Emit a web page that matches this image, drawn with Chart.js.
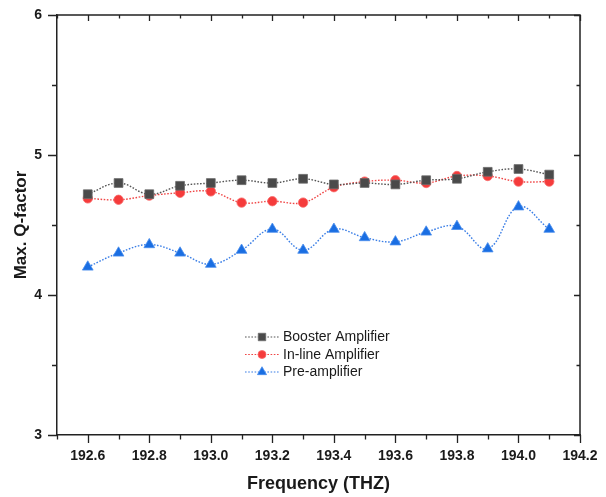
<!DOCTYPE html>
<html>
<head>
<meta charset="utf-8">
<script src="https://cdn.jsdelivr.net/npm/chart.js@4.4.1/dist/chart.umd.min.js"></script>
<style>
  html, body { margin: 0; padding: 0; background: #fff; }
  #wrap { width: 606px; height: 497px; }
</style>
</head>
<body>
<div id="wrap"><canvas id="c" width="606" height="497"></canvas></div>
<script>
// ---- data ----
const frequencies = [192.6, 192.7, 192.8, 192.9, 193.0, 193.1, 193.2, 193.3, 193.4, 193.5, 193.6, 193.7, 193.8, 193.9, 194.0, 194.1];
const boosterAmp  = [4.72, 4.80, 4.72, 4.78, 4.80, 4.82, 4.80, 4.83, 4.79, 4.80, 4.79, 4.82, 4.83, 4.88, 4.90, 4.86];
const inlineAmp   = [4.69, 4.68, 4.71, 4.73, 4.74, 4.66, 4.67, 4.66, 4.77, 4.81, 4.82, 4.80, 4.85, 4.85, 4.81, 4.81];
const preAmp      = [4.20, 4.30, 4.36, 4.30, 4.22, 4.32, 4.47, 4.32, 4.47, 4.41, 4.38, 4.45, 4.49, 4.33, 4.63, 4.47];
const seriesNames = ['Booster Amplifier', 'In-line Amplifier', 'Pre-amplifier'];
const xTickLabels = ['192.6', '192.8', '193.0', '193.2', '193.4', '193.6', '193.8', '194.0', '194.2'];
const yTickLabels = ['3', '4', '5', '6'];
const xMin = 192.5, xMax = 194.2, yMin = 3, yMax = 6;

const toPts = arr => arr.map((v, i) => ({ x: frequencies[i], y: v }));

const styles = [
  { line: '#555555', fill: '#4a4a4a', border: '#6a6a6a', shape: 'rect', r: 6.2 },
  { line: '#f04545', fill: '#f53b3b', border: '#f76a6a', shape: 'circle', r: 4.7 },
  { line: '#3a7ee6', fill: '#1a6ee2', border: '#4a8eee', shape: 'triangle', r: 6.2 }
];
const seriesData = [boosterAmp, inlineAmp, preAmp];

const datasets = seriesData.map((arr, i) => ({
  label: seriesNames[i],
  data: toPts(arr),
  borderColor: styles[i].line,
  borderWidth: 1.4,
  borderDash: [1.6, 1.6],
  tension: 0.4,
  pointStyle: styles[i].shape,
  pointRadius: styles[i].r,
  pointBackgroundColor: styles[i].fill,
  pointBorderColor: styles[i].border,
  pointBorderWidth: 0.8,
  fill: false
}));

function drawMarker(ctx, shape, x, y, r, fill, border) {
  ctx.save();
  ctx.setLineDash([]);
  ctx.fillStyle = fill;
  ctx.strokeStyle = border;
  ctx.lineWidth = 0.8;
  ctx.beginPath();
  if (shape === 'rect') {
    const s = r * Math.SQRT1_2;
    ctx.rect(x - s, y - s, 2 * s, 2 * s);
  } else if (shape === 'circle') {
    ctx.arc(x, y, r, 0, Math.PI * 2);
  } else {
    let a = 0;
    ctx.moveTo(x + Math.sin(a) * r, y - Math.cos(a) * r);
    a += 2 * Math.PI / 3;
    ctx.lineTo(x + Math.sin(a) * r, y - Math.cos(a) * r);
    a += 2 * Math.PI / 3;
    ctx.lineTo(x + Math.sin(a) * r, y - Math.cos(a) * r);
    ctx.closePath();
  }
  ctx.fill();
  ctx.stroke();
  ctx.restore();
}

const framePlugin = {
  id: 'frame',
  afterDraw(chart) {
    const ctx = chart.ctx;
    const xs = chart.scales.x, ys = chart.scales.y;
    const a = chart.chartArea;
    ctx.save();
    ctx.strokeStyle = '#222';
    ctx.lineWidth = 1.5;
    ctx.setLineDash([]);
    ctx.beginPath();
    ctx.moveTo(a.left, a.top); ctx.lineTo(a.right, a.top); ctx.lineTo(a.right, a.bottom);
    ctx.stroke();
    ctx.lineWidth = 1.3;
    for (let k = 0; k <= 17; k++) {
      const v = xMin + k * 0.1;
      const px = Math.round(xs.getPixelForValue(v)) + 0.5;
      const major = (k % 2 === 1);
      const lo = major ? 8 : 4.5, li = major ? 6 : 3.5;
      ctx.beginPath();
      ctx.moveTo(px, a.bottom); ctx.lineTo(px, a.bottom + lo);
      ctx.moveTo(px, a.top); ctx.lineTo(px, a.top + li);
      ctx.stroke();
    }
    for (let k = 0; k <= 6; k++) {
      const v = yMin + k * 0.5;
      const py = Math.round(ys.getPixelForValue(v)) + 0.5;
      const major = (k % 2 === 0);
      const lo = major ? 9 : 5, li = major ? 6 : 3.5;
      ctx.beginPath();
      ctx.moveTo(a.left - lo, py); ctx.lineTo(a.left, py);
      ctx.moveTo(a.right - li, py); ctx.lineTo(a.right, py);
      ctx.stroke();
    }
    ctx.restore();

    const lx0 = 245, lx1 = 279, mx = 262, tx = 283;
    const rows = [337, 354.5, 372];
    ctx.save();
    ctx.font = '14px "Liberation Sans", Arial, sans-serif';
    ctx.textBaseline = 'middle';
    ctx.textAlign = 'left';
    datasets.forEach((d, i) => {
      const y = rows[i];
      ctx.save();
      ctx.strokeStyle = styles[i].line;
      ctx.lineWidth = 1.2;
      ctx.setLineDash([1.6, 1.6]);
      ctx.beginPath();
      ctx.moveTo(lx0, y); ctx.lineTo(lx1, y);
      ctx.stroke();
      ctx.restore();
      drawMarker(ctx, styles[i].shape, mx, y, styles[i].r * 0.85, styles[i].fill, styles[i].border);
      ctx.fillStyle = '#1a1a1a';
      ctx.fillText(d.label, tx, y + 0.5);
    });
    ctx.restore();
  }
};

new Chart(document.getElementById('c'), {
  type: 'line',
  data: { datasets },
  options: {
    responsive: false,
    animation: false,
    devicePixelRatio: 1,
    layout: { padding: { left: 0, top: 15, right: 26, bottom: 0 } },
    plugins: { legend: { display: false }, tooltip: { enabled: false } },
    scales: {
      x: {
        type: 'linear',
        min: xMin, max: xMax,
        afterFit: s => { s.height = 62; s.paddingLeft = 0; s.paddingRight = 0; },
        afterBuildTicks: s => { s.ticks = xTickLabels.map(t => ({ value: parseFloat(t) })); },
        ticks: {
          callback: (v) => { const l = xTickLabels.find(t => Math.abs(parseFloat(t) - v) < 1e-6); return l || ''; },
          color: '#1a1a1a',
          font: { family: '"Liberation Sans", Arial, sans-serif', size: 14, weight: 'bold' },
          padding: 13,
          maxRotation: 0,
          autoSkip: false
        },
        grid: { display: true, drawOnChartArea: false, drawTicks: false },
        border: { display: true, color: '#222', width: 1.5 },
        title: {
          display: true,
          text: 'Frequency (THZ)',
          color: '#1a1a1a',
          font: { family: '"Liberation Sans", Arial, sans-serif', size: 18, weight: 'bold', lineHeight: 1.2 },
          padding: { top: 0, bottom: 2 }
        }
      },
      y: {
        type: 'linear',
        min: yMin, max: yMax,
        afterFit: s => { s.width = 57; s.paddingTop = 0; s.paddingBottom = 0; },
        afterBuildTicks: s => { s.ticks = yTickLabels.map(t => ({ value: parseFloat(t) })); },
        ticks: {
          callback: (v) => { const l = yTickLabels.find(t => Math.abs(parseFloat(t) - v) < 1e-6); return l || ''; },
          color: '#1a1a1a',
          font: { family: '"Liberation Sans", Arial, sans-serif', size: 14, weight: 'bold' },
          padding: 15
        },
        grid: { display: true, drawOnChartArea: false, drawTicks: false },
        border: { display: true, color: '#222', width: 1.5 },
        title: {
          display: true,
          text: 'Max. Q-factor',
          color: '#1a1a1a',
          font: { family: '"Liberation Sans", Arial, sans-serif', size: 17, weight: 'bold', lineHeight: 1.2 },
          padding: { top: 11, bottom: 0 }
        }
      }
    }
  },
  plugins: [framePlugin]
});
</script>
</body>
</html>
